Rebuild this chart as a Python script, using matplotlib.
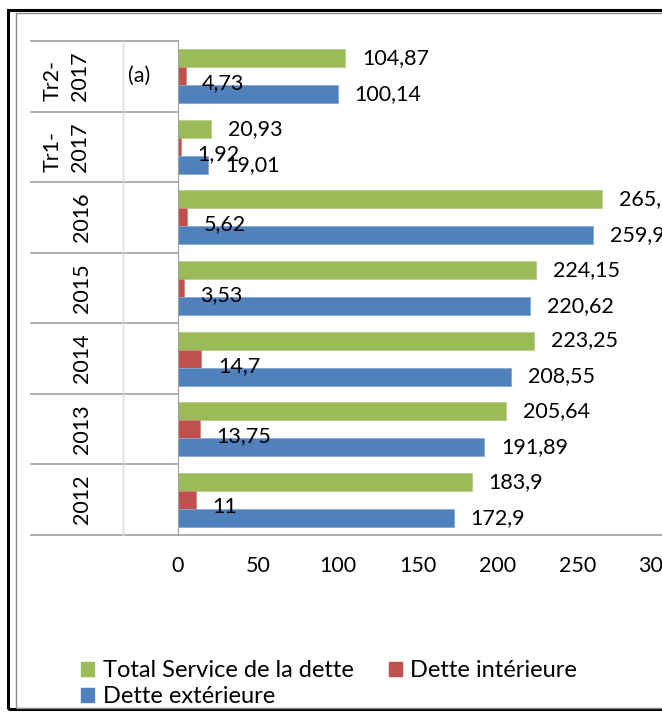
import numpy as np
import matplotlib.pyplot as plt
from matplotlib.patches import Rectangle, Patch
from matplotlib.lines import Line2D

plt.rcParams['font.family'] = ['Lato', 'DejaVu Sans']

# data, bottom to top
categories = ['2012', '2013', '2014', '2015', '2016', 'Tr1-\n2017', 'Tr2-\n2017']
total = [183.9, 205.64, 223.25, 224.15, 265.56, 20.93, 104.87]
interieure = [11, 13.75, 14.7, 3.53, 5.62, 1.92, 4.73]
exterieure = [172.9, 191.89, 208.55, 220.62, 259.94, 19.01, 100.14]
xticks = [0, 50, 100, 150, 200, 250, 300]
series_names = ['Total Service de la dette', 'Dette intérieure', 'Dette extérieure']

green = '#9BBB59'
red = '#C0504D'
blue = '#4F81BD'
fs = 15.5

W, H = 662, 713
fig = plt.figure(figsize=(W / 100, H / 100), dpi=100)

def fx(px):
    return px / W

def fy(py):
    return 1 - py / H

ax_left, ax_right, ax_top, ax_bot = 178, 657, 41, 535
ax = fig.add_axes([fx(ax_left), fy(ax_bot), fx(ax_right - ax_left), (ax_bot - ax_top) / H])

y = np.arange(len(categories))
h = 0.255
ax.barh(y + h, total, h, color=green, edgecolor='#b5cf86', linewidth=0.6)
ax.barh(y, interieure, h, color=red, edgecolor='#d58482', linewidth=0.6)
ax.barh(y - h, exterieure, h, color=blue, edgecolor='#86a6d3', linewidth=0.6)

def fmt(v):
    return ('%g' % v).replace('.', ',')

for i in range(len(categories)):
    for val, off in [(total[i], h), (interieure[i], -0.1), (exterieure[i], -h)]:
        ax.annotate(fmt(val), (val, y[i] + off), xytext=(12, 0), textcoords='offset points',
                    va='center', ha='left', fontsize=fs, annotation_clip=False)

ax.set_xlim(0, 300)
ax.set_ylim(-0.5, len(categories) - 0.5)
ax.set_xticks(xticks)
ax.set_xticklabels([str(t) for t in xticks], fontsize=fs)
ax.tick_params(axis='x', length=0, pad=15)
ax.set_yticks([])
for s in ['top', 'right', 'bottom']:
    ax.spines[s].set_visible(False)
ax.spines['left'].set_color('#a0a0a0')

# category table on the left
cat_h = (ax_bot - ax_top) / len(categories)
gray = '#a0a0a0'
for k in range(len(categories) + 1):
    yy = ax_top + k * cat_h
    x_end = W if k == len(categories) else ax_left
    fig.add_artist(Line2D([fx(31), fx(x_end)], [fy(yy), fy(yy)], color=gray, lw=1.2))
fig.add_artist(Line2D([fx(123), fx(123)], [fy(ax_top), fy(ax_bot)], color='#d8d8d8', lw=1))
for i, c in enumerate(categories):
    yc = ax_bot - (i + 0.5) * cat_h
    if '\n' in c:
        fig.text(fx(66), fy(yc), c, rotation=90, ha='center', va='center', fontsize=fs,
                 linespacing=1.45, multialignment='left')
    else:
        fig.text(fx(82), fy(yc), c, rotation=90, ha='center', va='center', fontsize=fs)
fig.text(fx(139), fy(ax_top + 0.5 * cat_h), '(a)', ha='center', va='center', fontsize=fs)

# legend
handles = [Patch(color=green), Patch(color=blue), Patch(color=red)]
labels = [series_names[0], series_names[2], series_names[1]]
fig.legend(handles, labels, ncol=2, loc='upper left', bbox_to_anchor=(fx(72), fy(651)),
           frameon=False, fontsize=17, handlelength=0.55, handleheight=0.55,
           handletextpad=0.35, columnspacing=1.5, labelspacing=0.2, borderaxespad=0)

# borders
fig.add_artist(Rectangle((fx(8), fy(709)), fx(700), (709 - 10) / H, fill=False,
                         edgecolor='black', lw=2.2))
fig.add_artist(Rectangle((fx(16), fy(708)), fx(700), (708 - 13) / H, fill=False,
                         edgecolor='#8c8c8c', lw=1))

fig.savefig('out.png', dpi=100)
